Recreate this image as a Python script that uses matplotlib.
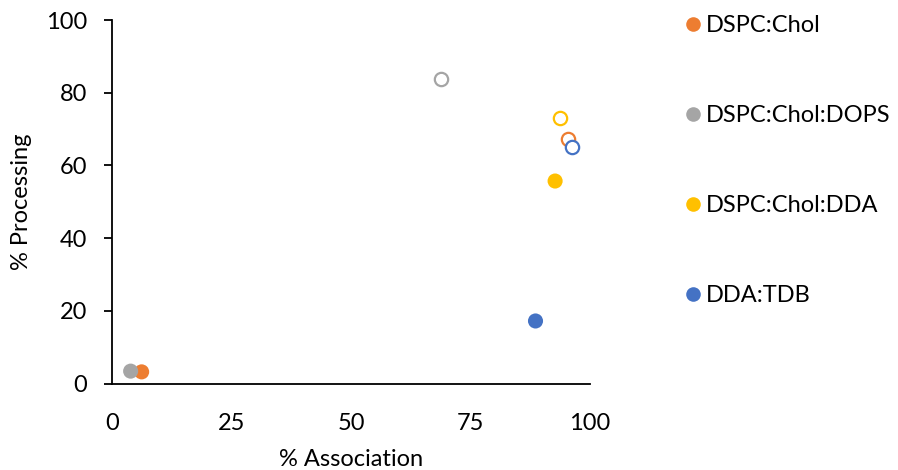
import matplotlib
matplotlib.use("Agg")
import matplotlib.pyplot as plt
from matplotlib.lines import Line2D

plt.rcParams['font.family'] = ['Lato', 'DejaVu Sans']

# Formulations and their colours
formulations = ["DSPC:Chol", "DSPC:Chol:DOPS", "DSPC:Chol:DDA", "DDA:TDB"]
colors = ["#ED7D31", "#A5A5A5", "#FFC000", "#4472C4"]

# Filled markers: one measurement set
assoc_filled = [6.2, 3.9, 92.7, 88.6]
proc_filled = [3.2, 3.4, 55.7, 17.2]

# Open markers: second measurement set
assoc_open = [95.5, 68.8, 93.7, 96.2]
proc_open = [67.3, 83.8, 73.0, 65.0]

x_ticks = [0, 25, 50, 75, 100]
y_ticks = [0, 20, 40, 60, 80, 100]

fig = plt.figure(figsize=(8.98, 4.70), dpi=100)
ax = fig.add_axes([112 / 898, (470 - 383.5) / 470, (590 - 112) / 898, (383.5 - 20) / 470])

ms = 118
for name, c, xf, yf, xo, yo in zip(formulations, colors, assoc_filled, proc_filled, assoc_open, proc_open):
    ax.scatter([xo], [yo], s=ms * 0.78, facecolor="white", edgecolor=c, linewidths=1.6, zorder=3)
    ax.scatter([xf], [yf], s=ms, color=c, edgecolor="none", zorder=4, label=name)

ax.set_xlim(0, 100)
ax.set_ylim(0, 100)
ax.set_xticks(x_ticks)
ax.set_yticks(y_ticks)
ax.tick_params(axis="x", length=0, pad=21, labelsize=17)
ax.tick_params(axis="y", length=6, width=1.3, pad=12, labelsize=17, direction="out")
for s in ["top", "right"]:
    ax.spines[s].set_visible(False)
for s in ["left", "bottom"]:
    ax.spines[s].set_linewidth(1.3)
ax.spines["bottom"].set_zorder(5)

ax.set_xlabel("% Association", fontsize=17, labelpad=11)
ax.set_ylabel("% Processing", fontsize=17, labelpad=10)

handles = [Line2D([], [], marker="o", linestyle="none", markersize=10.5,
                  markerfacecolor=c, markeredgecolor="none") for c in colors]
fig.legend(handles, formulations, loc="upper left",
           bbox_to_anchor=(672 / 898, 1 - 6 / 470), frameon=False,
           fontsize=17, labelspacing=2.92, handletextpad=0.05,
           handlelength=1.0, borderaxespad=0)

fig.savefig("out.png", dpi=100)
